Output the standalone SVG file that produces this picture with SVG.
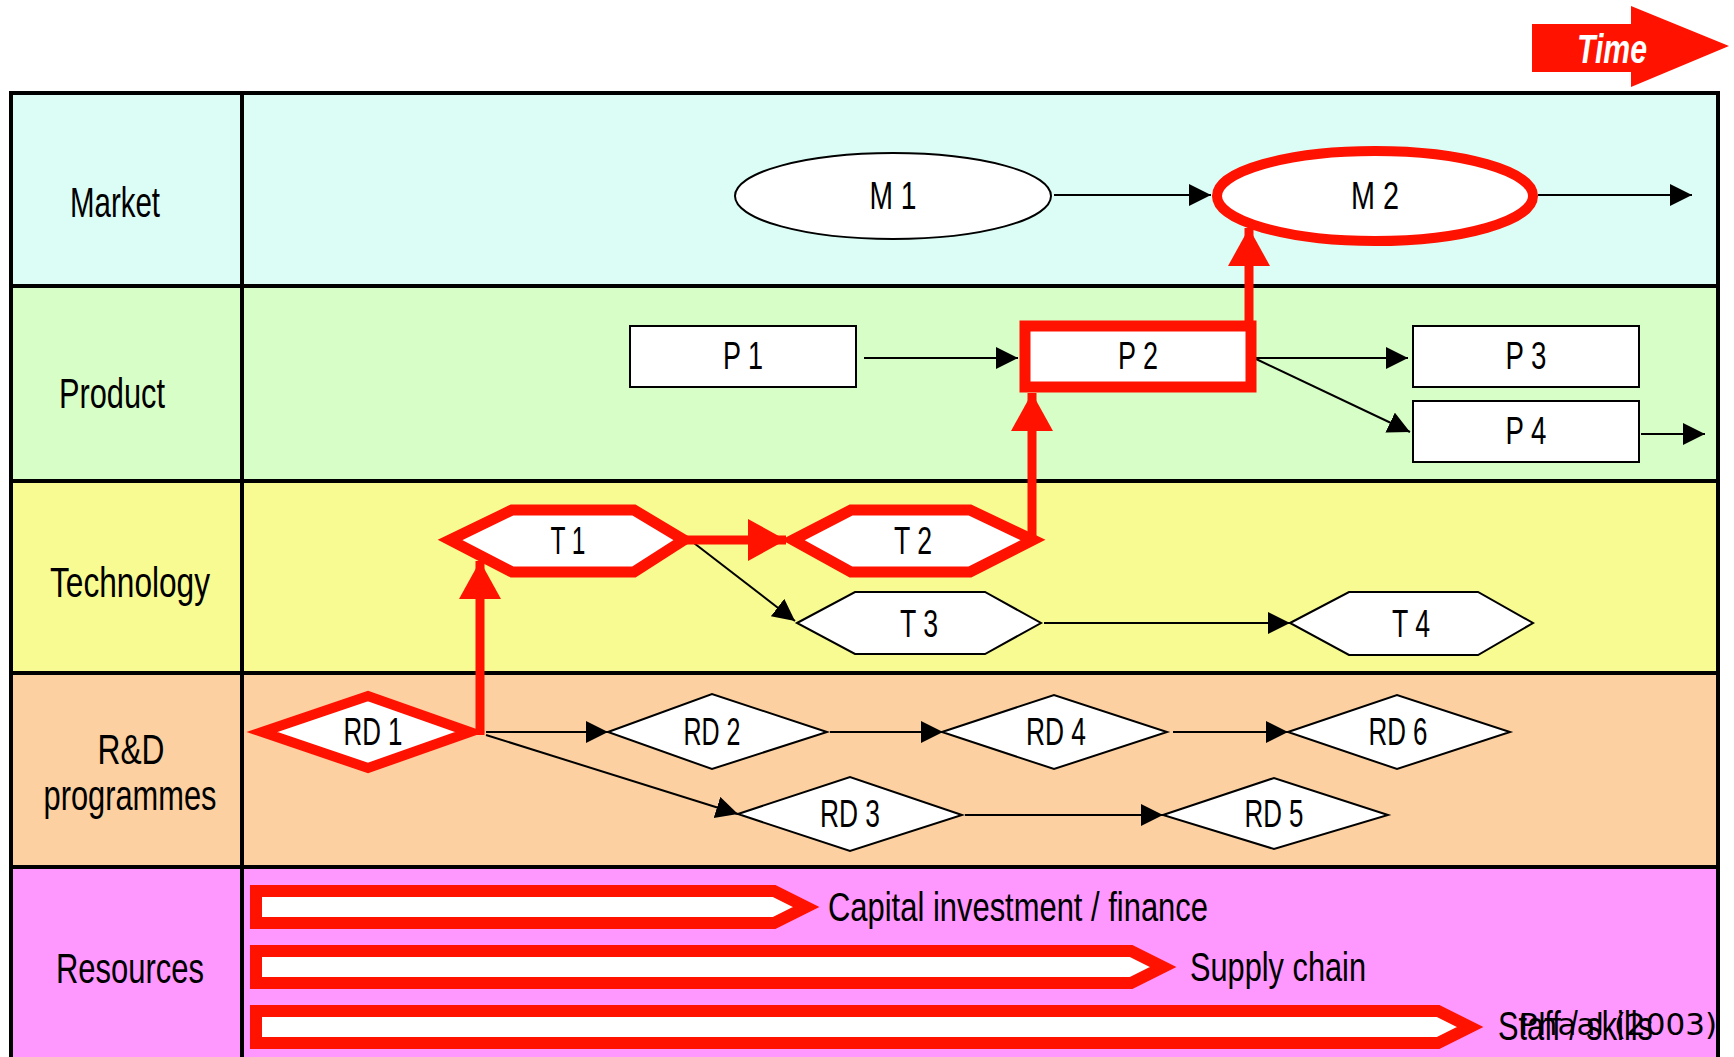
<svg xmlns="http://www.w3.org/2000/svg" width="1734" height="1057" viewBox="0 0 1734 1057">
<style>
.lbl{font-family:"Liberation Sans",Arial,sans-serif;font-size:42px;fill:#000;text-anchor:middle}
.nt{font-family:"Liberation Sans",Arial,sans-serif;font-size:38px;fill:#000;text-anchor:middle}
.bt{font-family:"Liberation Sans",Arial,sans-serif;font-size:40px;fill:#000}
.node{fill:#fff;stroke:#000;stroke-width:2}
.hot{fill:#fff;stroke:#ff1200;stroke-width:11;stroke-linejoin:miter}
.bar{fill:#fff;stroke:#ff1200;stroke-width:12;stroke-linejoin:miter}
.ln{stroke:#000;stroke-width:2;fill:none}
.rl{stroke:#ff1200;stroke-width:9;fill:none}
.grid{stroke:#000;stroke-width:4;fill:none}
</style>
<defs>
<marker id="ah" markerUnits="userSpaceOnUse" markerWidth="24" markerHeight="24" refX="22" refY="11" orient="auto">
<path d="M0,0 L22,11 L0,22 z" fill="#000"/>
</marker>
<marker id="rh" markerUnits="userSpaceOnUse" markerWidth="40" markerHeight="44" refX="38" refY="21" orient="auto">
<path d="M0,0 L38,21 L0,42 z" fill="#ff1200"/>
</marker>
</defs>
<rect width="1734" height="1057" fill="#fff"/>
<g id="time">
<polygon points="1532,24 1631,24 1631,6 1729,46 1631,87 1631,72 1532,72" fill="#ff1200"/>
<text x="1577" y="63" font-family="Liberation Sans,Arial,sans-serif" font-size="40" font-weight="bold" font-style="italic" fill="#fff" textLength="70" lengthAdjust="spacingAndGlyphs">Time</text>
</g>
<g id="table">
<rect x="11" y="93" width="1707" height="193" fill="#dbfdf6"/>
<rect x="11" y="286" width="1707" height="195" fill="#d8fec7"/>
<rect x="11" y="481" width="1707" height="192" fill="#f8fb91"/>
<rect x="11" y="673" width="1707" height="194" fill="#fcd0a1"/>
<rect x="11" y="867" width="1707" height="200" fill="#fe97fe"/>
<rect class="grid" x="11" y="93" width="1707" height="1000"/>
<line class="grid" x1="242" y1="93" x2="242" y2="1060"/>
<line class="grid" x1="11" y1="286" x2="1718" y2="286"/>
<line class="grid" x1="11" y1="481" x2="1718" y2="481"/>
<line class="grid" x1="11" y1="673" x2="1718" y2="673"/>
<line class="grid" x1="11" y1="867" x2="1718" y2="867"/>
<text class="lbl" x="115" y="217" textLength="90" lengthAdjust="spacingAndGlyphs">Market</text>
<text class="lbl" x="112" y="408" textLength="106" lengthAdjust="spacingAndGlyphs">Product</text>
<text class="lbl" x="130" y="597" textLength="160" lengthAdjust="spacingAndGlyphs">Technology</text>
<text class="lbl" x="131" y="764" textLength="67" lengthAdjust="spacingAndGlyphs">R&amp;D</text>
<text class="lbl" x="130" y="810" textLength="173" lengthAdjust="spacingAndGlyphs">programmes</text>
<text class="lbl" x="130" y="983" textLength="148" lengthAdjust="spacingAndGlyphs">Resources</text>
</g>
<g id="connectors">
<line class="ln" x1="1054" y1="195" x2="1211" y2="195" marker-end="url(#ah)"/>
<line class="ln" x1="1538" y1="195" x2="1692" y2="195" marker-end="url(#ah)"/>
<line class="ln" x1="864" y1="358" x2="1018" y2="358" marker-end="url(#ah)"/>
<line class="ln" x1="1254" y1="358" x2="1408" y2="358" marker-end="url(#ah)"/>
<line class="ln" x1="1254" y1="358" x2="1410" y2="432" marker-end="url(#ah)"/>
<line class="ln" x1="1641" y1="434" x2="1705" y2="434" marker-end="url(#ah)"/>
<line class="ln" x1="690" y1="540" x2="795" y2="621" marker-end="url(#ah)"/>
<line class="ln" x1="1044" y1="623" x2="1290" y2="623" marker-end="url(#ah)"/>
<line class="ln" x1="486" y1="732" x2="608" y2="732" marker-end="url(#ah)"/>
<line class="ln" x1="486" y1="735" x2="738" y2="814" marker-end="url(#ah)"/>
<line class="ln" x1="830" y1="732" x2="943" y2="732" marker-end="url(#ah)"/>
<line class="ln" x1="1173" y1="732" x2="1288" y2="732" marker-end="url(#ah)"/>
<line class="ln" x1="965" y1="815" x2="1163" y2="815" marker-end="url(#ah)"/>
<line class="rl" x1="480" y1="735" x2="480" y2="561" marker-end="url(#rh)"/>
<line class="rl" x1="684" y1="540" x2="786" y2="540" marker-end="url(#rh)"/>
<line class="rl" x1="1032" y1="540" x2="1032" y2="393" marker-end="url(#rh)"/>
<line class="rl" x1="1249" y1="326" x2="1249" y2="228" marker-end="url(#rh)"/>
</g>
<g id="M1"><ellipse class="node" cx="893" cy="196" rx="158" ry="43"/><text class="nt" x="893" y="209" textLength="47" lengthAdjust="spacingAndGlyphs">M 1</text></g>
<g id="M2"><ellipse class="hot" cx="1375" cy="196" rx="158" ry="45" style="stroke-width:10"/><text class="nt" x="1375" y="209" textLength="48" lengthAdjust="spacingAndGlyphs">M 2</text></g>
<g id="P1"><rect class="node" x="630" y="326" width="226" height="61"/><text class="nt" x="743" y="369" textLength="40" lengthAdjust="spacingAndGlyphs">P 1</text></g>
<g id="P2"><rect class="hot" x="1025" y="326" width="226" height="61"/><text class="nt" x="1138" y="369" textLength="40" lengthAdjust="spacingAndGlyphs">P 2</text></g>
<g id="P3"><rect class="node" x="1413" y="326" width="226" height="61"/><text class="nt" x="1526" y="369" textLength="41" lengthAdjust="spacingAndGlyphs">P 3</text></g>
<g id="P4"><rect class="node" x="1413" y="401" width="226" height="61"/><text class="nt" x="1526" y="444" textLength="41" lengthAdjust="spacingAndGlyphs">P 4</text></g>
<g id="T1"><polygon class="hot" points="450,540 512,510 634,510 684,540 634,572 512,572"/><text class="nt" x="568" y="554" textLength="35" lengthAdjust="spacingAndGlyphs">T 1</text></g>
<g id="T2"><polygon class="hot" points="793,540 851,510 970,510 1033,540 970,572 851,572"/><text class="nt" x="913" y="554" textLength="38" lengthAdjust="spacingAndGlyphs">T 2</text></g>
<g id="T3"><polygon class="node" points="797,623 855,592 985,592 1041,623 985,654 855,654"/><text class="nt" x="919" y="637" textLength="38" lengthAdjust="spacingAndGlyphs">T 3</text></g>
<g id="T4"><polygon class="node" points="1290,623 1349,592 1478,592 1533,623 1478,655 1349,655"/><text class="nt" x="1411" y="637" textLength="38" lengthAdjust="spacingAndGlyphs">T 4</text></g>
<g id="RD1"><polygon class="hot" points="262,732 368,696 470,732 368,768" style="stroke-width:10"/><text class="nt" x="373" y="745" textLength="59" lengthAdjust="spacingAndGlyphs">RD 1</text></g>
<g id="RD2"><polygon class="node" points="608,732 712,694 827,732 712,769"/><text class="nt" x="712" y="745" textLength="57" lengthAdjust="spacingAndGlyphs">RD 2</text></g>
<g id="RD3"><polygon class="node" points="738,814 850,777 962,815 850,851"/><text class="nt" x="850" y="827" textLength="60" lengthAdjust="spacingAndGlyphs">RD 3</text></g>
<g id="RD4"><polygon class="node" points="942,732 1054,695 1167,732 1054,769"/><text class="nt" x="1056" y="745" textLength="60" lengthAdjust="spacingAndGlyphs">RD 4</text></g>
<g id="RD5"><polygon class="node" points="1163,815 1274,778 1388,815 1274,849"/><text class="nt" x="1274" y="827" textLength="59" lengthAdjust="spacingAndGlyphs">RD 5</text></g>
<g id="RD6"><polygon class="node" points="1288,732 1397,695 1510,732 1397,769"/><text class="nt" x="1398" y="745" textLength="59" lengthAdjust="spacingAndGlyphs">RD 6</text></g>
<g id="R1"><polygon class="bar" points="256,891 774,891 806,907 774,923 256,923"/><text class="bt" x="828" y="921" textLength="380" lengthAdjust="spacingAndGlyphs">Capital investment / finance</text></g>
<g id="R2"><polygon class="bar" points="256,951 1131,951 1163,967 1131,983 256,983"/><text class="bt" x="1190" y="981" textLength="176" lengthAdjust="spacingAndGlyphs">Supply chain</text></g>
<g id="R3"><polygon class="bar" points="256,1011 1438,1011 1470,1027 1438,1043 256,1043"/><text class="bt" x="1498" y="1040" textLength="155" lengthAdjust="spacingAndGlyphs">Staff / skills</text></g>
<text x="1717" y="1035" font-family="DejaVu Sans,sans-serif" font-size="31" fill="#000" text-anchor="end">Phaal (2003)</text>
</svg>
